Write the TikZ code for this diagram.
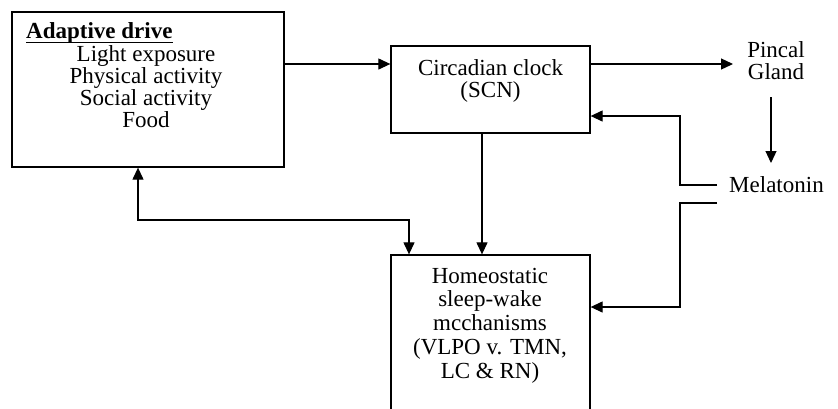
\documentclass[tikz,border=0pt]{standalone}
\usepackage{fontspec}
\setmainfont{Liberation Serif}
\usetikzlibrary{arrows.meta}
\begin{document}
\begin{tikzpicture}[x=1pt,y=-1pt,
  box/.style={draw,line width=1.3pt,inner sep=0pt},
  txt/.style={align=center,font=\fontsize{23}{22}\selectfont,inner sep=0pt},
  arr/.style={line width=1.2pt,-{Triangle[length=12pt,width=11pt]}},
  darr/.style={line width=1.2pt,{Triangle[length=12pt,width=11pt]}-{Triangle[length=12pt,width=11pt]}}]
\useasboundingbox (0,0) rectangle (838,408);
\clip (0,0) rectangle (838,408);
% boxes
\node[box,minimum width=272pt,minimum height=155pt] (adapt) at (148,89.5) {};
\node[box,minimum width=199pt,minimum height=87pt] (clock) at (490.5,89.5) {};
\node[box,minimum width=199pt,minimum height=185pt] (homeo) at (490.5,347.5) {};
% texts
\node[txt,anchor=base west] (adtitle) at (26,38) {\bfseries Adaptive drive};
\draw[line width=1.1pt] ([yshift=-4.5pt]adtitle.base west) -- ([yshift=-4.5pt]adtitle.base east);
\node[txt,anchor=base] (adlist) at (146,127) {Light exposure\\Physical activity\\Social activity\\Food};
\node[txt,anchor=base] (clocktxt) at (490.5,97) {Circadian clock\\(SCN)};
\node[txt,anchor=base,font=\fontsize{23}{23.7}\selectfont] (homeotxt) at (490,378) {Homeostatic\\sleep-wake\\mcchanisms\\(VLPO v. TMN,\\LC \& RN)};
\node[txt,anchor=base] (pineal) at (776,79) {Pincal\\Gland};
\node[txt,anchor=base west] (mela) at (729,192) {Melatonin};
% coordinates
\coordinate (pinend) at (733,64);
\coordinate (pintop) at (771,97);
\coordinate (melatop) at (771,163);
\coordinate (m1) at (717,185);
\coordinate (m1c) at (680,185);
\coordinate (m1d) at (680,116);
\coordinate (m2) at (717,203);
\coordinate (m2c) at (680,203);
\coordinate (m2d) at (680,307);
\coordinate (bl) at (138,220);
\coordinate (br) at (409,220);
% connectors
\draw[arr] (adapt.east |- pinend) -- (clock.west |- pinend);
\draw[arr] (clock.east |- pinend) -- (pinend);
\draw[arr] (pintop) -- (melatop);
\draw[arr] (m1) -- (m1c) -- (m1d) -- (clock.east |- m1d);
\draw[arr] (m2) -- (m2c) -- (m2d) -- (homeo.east |- m2d);
\draw[arr] (clock.south -| 482,0) -- (homeo.north -| 482,0);
\draw[darr] (adapt.south -| bl) -- (bl) -- (br) -- (homeo.north -| br);
\end{tikzpicture}
\end{document}
